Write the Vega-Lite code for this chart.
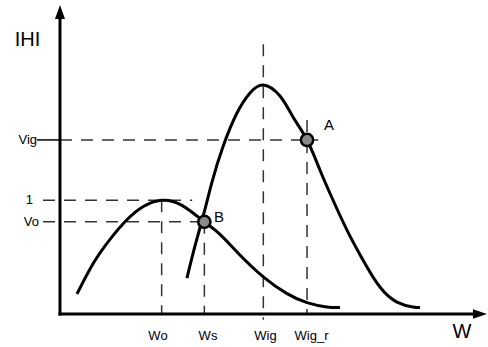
{
  "$schema": "https://vega.github.io/schema/vega-lite/v6.json",
  "width": 488,
  "height": 347,
  "autosize": {"type": "fit", "contains": "padding"},
  "padding": 0,
  "background": "white",
  "config": {"view": {"stroke": null}, "text": {"font": "Liberation Sans", "color": "black"}},
  "datasets": {
    "curves": [
      {"curve": "o", "W": 0.167, "H": 0.176},
      {"curve": "o", "W": 0.328, "H": 0.446},
      {"curve": "o", "W": 0.492, "H": 0.656},
      {"curve": "o", "W": 0.656, "H": 0.826},
      {"curve": "o", "W": 0.820, "H": 0.945},
      {"curve": "o", "W": 1.0, "H": 1.0},
      {"curve": "o", "W": 1.200, "H": 0.955},
      {"curve": "o", "W": 1.42, "H": 0.81},
      {"curve": "o", "W": 1.574, "H": 0.700},
      {"curve": "o", "W": 1.770, "H": 0.519},
      {"curve": "o", "W": 2.0, "H": 0.327},
      {"curve": "o", "W": 2.229, "H": 0.181},
      {"curve": "o", "W": 2.43, "H": 0.100},
      {"curve": "o", "W": 2.624, "H": 0.062},
      {"curve": "o", "W": 2.754, "H": 0.057},
      {"curve": "ig", "W": 1.249, "H": 0.316},
      {"curve": "ig", "W": 1.328, "H": 0.598},
      {"curve": "ig", "W": 1.42, "H": 0.90},
      {"curve": "ig", "W": 1.495, "H": 1.160},
      {"curve": "ig", "W": 1.603, "H": 1.470},
      {"curve": "ig", "W": 1.741, "H": 1.767},
      {"curve": "ig", "W": 1.869, "H": 1.943},
      {"curve": "ig", "W": 2.0, "H": 2.013},
      {"curve": "ig", "W": 2.164, "H": 1.916},
      {"curve": "ig", "W": 2.292, "H": 1.732},
      {"curve": "ig", "W": 2.43, "H": 1.53},
      {"curve": "ig", "W": 2.557, "H": 1.266},
      {"curve": "ig", "W": 2.685, "H": 1.002},
      {"curve": "ig", "W": 2.823, "H": 0.738},
      {"curve": "ig", "W": 2.980, "H": 0.475},
      {"curve": "ig", "W": 3.147, "H": 0.237},
      {"curve": "ig", "W": 3.315, "H": 0.105},
      {"curve": "ig", "W": 3.472, "H": 0.062},
      {"curve": "ig", "W": 3.541, "H": 0.057}
    ],
    "guides": [
      {"name": "Vig", "W": 0, "H": 1.53, "W2": 2.54, "H2": 1.53},
      {"name": "one", "W": -0.167, "H": 1.0, "W2": 1.30, "H2": 1.0},
      {"name": "Vo", "W": -0.167, "H": 0.81, "W2": 1.42, "H2": 0.81},
      {"name": "Wo", "W": 1.0, "H": 1.0, "W2": 1.0, "H2": 0},
      {"name": "Ws", "W": 1.42, "H": 0.81, "W2": 1.42, "H2": 0},
      {"name": "Wig", "W": 2.0, "H": 2.37, "W2": 2.0, "H2": -0.05},
      {"name": "Wig_r", "W": 2.43, "H": 1.705, "W2": 2.43, "H2": 0}
    ],
    "axes": [
      {"name": "y", "W": 0, "H": 0, "W2": 0, "H2": 2.61},
      {"name": "x", "W": 0, "H": 0, "W2": 4.07, "H2": 0}
    ],
    "ticks": [
      {"name": "vigtick", "W": -0.226, "H": 1.53, "W2": 0, "H2": 1.53}
    ],
    "points": [
      {"label": "A", "W": 2.43, "H": 1.53},
      {"label": "B", "W": 1.42, "H": 0.81}
    ],
    "pointLabels": [
      {"t": "A", "W": 2.646, "H": 1.661},
      {"t": "B", "W": 1.564, "H": 0.853}
    ],
    "yLabels": [
      {"t": "Vig", "W": -0.226, "H": 1.53},
      {"t": "1", "W": -0.265, "H": 1.0},
      {"t": "Vo", "W": -0.206, "H": 0.81}
    ],
    "xLabels": [
      {"t": "Wo", "W": 0.964, "H": -0.229},
      {"t": "Ws", "W": 1.456, "H": -0.229},
      {"t": "Wig", "W": 2.021, "H": -0.229},
      {"t": "Wig_r", "W": 2.474, "H": -0.229}
    ],
    "titles": [
      {"t": "IHI", "W": -0.32, "H": 2.408},
      {"t": "W", "W": 3.954, "H": -0.158}
    ]
  },
  "encoding": {
    "x": {"field": "W", "type": "quantitative", "scale": {"domain": [-0.59, 4.21], "nice": false, "zero": false}, "axis": null},
    "y": {"field": "H", "type": "quantitative", "scale": {"domain": [-0.29, 2.76], "nice": false, "zero": false}, "axis": null}
  },
  "layer": [
    {
      "data": {"name": "guides"},
      "mark": {"type": "rule", "strokeDash": [12, 9], "strokeWidth": 1.5, "color": "#333333"},
      "encoding": {"x2": {"field": "W2"}, "y2": {"field": "H2"}}
    },
    {
      "data": {"name": "ticks"},
      "mark": {"type": "rule", "strokeWidth": 1.5, "color": "black"},
      "encoding": {"x2": {"field": "W2"}, "y2": {"field": "H2"}}
    },
    {
      "data": {"name": "axes"},
      "mark": {"type": "rule", "strokeWidth": 3, "color": "black", "strokeCap": "square"},
      "encoding": {"x2": {"field": "W2"}, "y2": {"field": "H2"}}
    },
    {
      "data": {"values": [{"W": 0, "H": 2.654}]},
      "mark": {"type": "point", "filled": true, "color": "black", "opacity": 1, "size": 196, "shape": "M0,-1L0.72,1L-0.72,1Z"}
    },
    {
      "data": {"values": [{"W": 4.131, "H": 0}]},
      "mark": {"type": "point", "filled": true, "color": "black", "opacity": 1, "size": 196, "shape": "M1,0L-1,0.68L-1,-0.68Z"}
    },
    {
      "data": {"name": "curves"},
      "mark": {"type": "line", "interpolate": "natural", "color": "black", "strokeWidth": 3},
      "encoding": {"detail": {"field": "curve"}}
    },
    {
      "data": {"name": "points"},
      "mark": {"type": "point", "shape": "circle", "filled": false, "fill": "#8a8a8a", "fillOpacity": 1, "stroke": "black", "strokeWidth": 2.5, "opacity": 1, "size": 150}
    },
    {
      "data": {"name": "pointLabels"},
      "mark": {"type": "text", "fontSize": 15, "align": "center", "baseline": "middle"},
      "encoding": {"text": {"field": "t"}}
    },
    {
      "data": {"name": "yLabels"},
      "mark": {"type": "text", "fontSize": 13, "align": "right", "baseline": "middle"},
      "encoding": {"text": {"field": "t"}}
    },
    {
      "data": {"name": "xLabels"},
      "mark": {"type": "text", "fontSize": 13, "align": "center", "baseline": "alphabetic"},
      "encoding": {"text": {"field": "t"}}
    },
    {
      "data": {"name": "titles"},
      "mark": {"type": "text", "fontSize": 20, "align": "center", "baseline": "middle"},
      "encoding": {"text": {"field": "t"}}
    }
  ]
}
